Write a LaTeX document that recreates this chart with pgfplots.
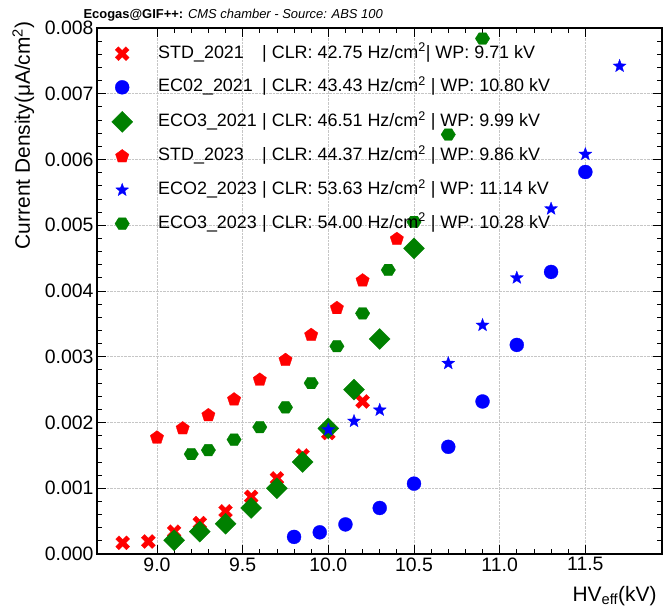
\documentclass[border=0pt]{standalone}
\usepackage{fontspec}
\setmainfont{Liberation Sans}
\usepackage{pgfplots}
\pgfplotsset{compat=1.18}
\usetikzlibrary{plotmarks}
\definecolor{rgreen}{rgb}{0,0.5,0}
\definecolor{rred}{rgb}{1,0,0}
\definecolor{rblue}{rgb}{0,0,1}

\pgfdeclareplotmark{fatx}{%
  \pgftransformrotate{45}%
  \pgfpathmoveto{\pgfqpoint{0.3\pgfplotmarksize}{\pgfplotmarksize}}%
  \pgfpathlineto{\pgfqpoint{0.3\pgfplotmarksize}{0.3\pgfplotmarksize}}%
  \pgfpathlineto{\pgfqpoint{\pgfplotmarksize}{0.3\pgfplotmarksize}}%
  \pgfpathlineto{\pgfqpoint{\pgfplotmarksize}{-0.3\pgfplotmarksize}}%
  \pgfpathlineto{\pgfqpoint{0.3\pgfplotmarksize}{-0.3\pgfplotmarksize}}%
  \pgfpathlineto{\pgfqpoint{0.3\pgfplotmarksize}{-\pgfplotmarksize}}%
  \pgfpathlineto{\pgfqpoint{-0.3\pgfplotmarksize}{-\pgfplotmarksize}}%
  \pgfpathlineto{\pgfqpoint{-0.3\pgfplotmarksize}{-0.3\pgfplotmarksize}}%
  \pgfpathlineto{\pgfqpoint{-\pgfplotmarksize}{-0.3\pgfplotmarksize}}%
  \pgfpathlineto{\pgfqpoint{-\pgfplotmarksize}{0.3\pgfplotmarksize}}%
  \pgfpathlineto{\pgfqpoint{-0.3\pgfplotmarksize}{0.3\pgfplotmarksize}}%
  \pgfpathlineto{\pgfqpoint{-0.3\pgfplotmarksize}{\pgfplotmarksize}}%
  \pgfpathclose\pgfusepathqfillstroke}

\pgfdeclareplotmark{fstar}{%
  \pgfpathmoveto{\pgfpointpolar{90}{\pgfplotmarksize}}%
  \pgfpathlineto{\pgfpointpolar{126}{0.42\pgfplotmarksize}}%
  \pgfpathlineto{\pgfpointpolar{162}{\pgfplotmarksize}}%
  \pgfpathlineto{\pgfpointpolar{198}{0.42\pgfplotmarksize}}%
  \pgfpathlineto{\pgfpointpolar{234}{\pgfplotmarksize}}%
  \pgfpathlineto{\pgfpointpolar{270}{0.42\pgfplotmarksize}}%
  \pgfpathlineto{\pgfpointpolar{306}{\pgfplotmarksize}}%
  \pgfpathlineto{\pgfpointpolar{342}{0.42\pgfplotmarksize}}%
  \pgfpathlineto{\pgfpointpolar{18}{\pgfplotmarksize}}%
  \pgfpathlineto{\pgfpointpolar{54}{0.42\pgfplotmarksize}}%
  \pgfpathclose\pgfusepathqfillstroke}

\pgfdeclareplotmark{fhex}{%
  \pgfpathmoveto{\pgfqpoint{\pgfplotmarksize}{0pt}}%
  \pgfpathlineto{\pgfqpoint{0.5\pgfplotmarksize}{0.8\pgfplotmarksize}}%
  \pgfpathlineto{\pgfqpoint{-0.5\pgfplotmarksize}{0.8\pgfplotmarksize}}%
  \pgfpathlineto{\pgfqpoint{-\pgfplotmarksize}{0pt}}%
  \pgfpathlineto{\pgfqpoint{-0.5\pgfplotmarksize}{-0.8\pgfplotmarksize}}%
  \pgfpathlineto{\pgfqpoint{0.5\pgfplotmarksize}{-0.8\pgfplotmarksize}}%
  \pgfpathclose\pgfusepathqfillstroke}

\pgfplotstableread{
x y
8.80 0.00017
8.95 0.00019
9.10 0.00034
9.25 0.00047
9.40 0.00065
9.55 0.00087
9.70 0.00115
9.85 0.00150
10.00 0.00184
10.20 0.00232
}\stdA
\pgfplotstableread{
x y
9.80 0.00026
9.95 0.00033
10.10 0.00045
10.30 0.00070
10.50 0.00107
10.70 0.00163
10.90 0.00232
11.10 0.00318
11.30 0.00429
11.50 0.00581
}\ecoTwoA
\pgfplotstableread{
x y
9.10 0.00021
9.25 0.00034
9.40 0.00046
9.55 0.00070
9.70 0.00100
9.85 0.00140
10.00 0.00191
10.15 0.00250
10.30 0.00327
10.50 0.00465
}\ecoThreeA
\pgfplotstableread{
x y
9.00 0.00177
9.15 0.00191
9.30 0.00211
9.45 0.00235
9.60 0.00265
9.75 0.00295
9.90 0.00333
10.05 0.00374
10.20 0.00416
10.40 0.00479
}\stdB
\pgfplotstableread{
x y
10.00 0.00189
10.15 0.00202
10.30 0.00219
10.70 0.00290
10.90 0.00348
11.10 0.00420
11.30 0.00525
11.50 0.00608
11.70 0.00742
}\ecoTwoB
\pgfplotstableread{
x y
9.20 0.00152
9.30 0.00158
9.45 0.00174
9.60 0.00193
9.75 0.00223
9.90 0.00260
10.05 0.00316
10.20 0.00366
10.35 0.00432
10.50 0.00505
10.70 0.00638
10.90 0.00784
}\ecoThreeB

\newcommand{\lgname}[1]{\makebox[104bp][l]{#1}}

\begin{document}
\begin{tikzpicture}
\useasboundingbox (-97bp,-56bp) rectangle (566bp,554bp);
\begin{axis}[
  scale only axis, width=564.6bp, height=526bp,
  xmin=8.65, xmax=11.945, ymin=0, ymax=0.008,
  xtick={9,9.5,10,10.5,11,11.5},
  ytick={0,0.001,0.002,0.003,0.004,0.005,0.006,0.007,0.008},
  minor x tick num=4, minor y tick num=4,
  scaled y ticks=false, scaled x ticks=false,
  xticklabel style={/pgf/number format/.cd, fixed, fixed zerofill, precision=1},
  yticklabel style={/pgf/number format/.cd, fixed, fixed zerofill, precision=3},
  /pgf/number format/assume math mode=true,
  tick label style={font=\fontsize{19.5}{23}\selectfont},
  tick align=inside, xtick pos=both, ytick pos=both,
  major tick length=9bp, minor tick length=5bp,
  every tick/.style={black, line width=0.8bp},
  grid=major, major grid style={gray!45, densely dotted, line width=0.6bp},
  axis line style={line width=1.8bp},
  legend style={at={(axis description cs:0,1)}, anchor=north west,
    xshift=7bp, yshift=-16bp, draw=none, fill=none, inner sep=0pt,
    row sep=14.6bp, font=\fontsize{18}{22}\selectfont,
    nodes={inner sep=0pt, text height=14bp, text depth=5bp}},
  legend cell align=left,
  mk/.style={only marks, mark options={line width=0.3bp},
    legend image code/.code={\path[draw=none, fill=none] (0bp,0bp) -- (54bp,0bp);
      \draw[##1, /tikz/only marks, mark repeat=2, mark phase=2] plot coordinates {(0bp,0bp) (18bp,0bp) (36bp,0bp)};}},
]
\addplot[mk, color=rred, mark=fatx, mark size=7.6bp] table {\stdA};
\addlegendentry{\lgname{STD\_2021}| CLR: 42.75 Hz/cm\textsuperscript{2}| WP: 9.71 kV}
\addplot[mk, color=rblue, mark=*, mark size=7bp] table {\ecoTwoA};
\addlegendentry{\lgname{EC02\_2021}| CLR: 43.43 Hz/cm\textsuperscript{2} | WP: 10.80 kV}
\addplot[mk, color=rgreen, mark=square*, mark size=7.4bp, mark options={rotate=45}] table {\ecoThreeA};
\addlegendentry{\lgname{ECO3\_2021}| CLR: 46.51 Hz/cm\textsuperscript{2} | WP: 9.99 kV}
\addplot[mk, color=rred, mark=pentagon*, mark size=7bp] table {\stdB};
\addlegendentry{\lgname{STD\_2023}| CLR: 44.37 Hz/cm\textsuperscript{2} | WP: 9.86 kV}
\addplot[mk, color=rblue, mark=fstar, mark size=6.8bp] table {\ecoTwoB};
\addlegendentry{\lgname{ECO2\_2023}| CLR: 53.63 Hz/cm\textsuperscript{2} | WP: 11.14 kV}
\addplot[mk, color=rgreen, mark=fhex, mark size=7.2bp] table {\ecoThreeB};
\addlegendentry{\lgname{ECO3\_2023}| CLR: 54.00 Hz/cm\textsuperscript{2} | WP: 10.28 kV}
\end{axis}
\node[anchor=base west, font=\fontsize{13}{16}\selectfont] at (-17bp,535bp) {\textbf{Ecogas@GIF++:} \textit{CMS chamber - Source: ABS 100}};
\node[rotate=90, anchor=base east, font=\fontsize{21}{25}\selectfont] at (-67bp,536bp) {Current Density(μA/cm\textsuperscript{2})};
\node[anchor=base east, font=\fontsize{21}{25}\selectfont] at (563bp,-47bp) {HV\textsubscript{eff}(kV)};
\end{tikzpicture}
\end{document}
